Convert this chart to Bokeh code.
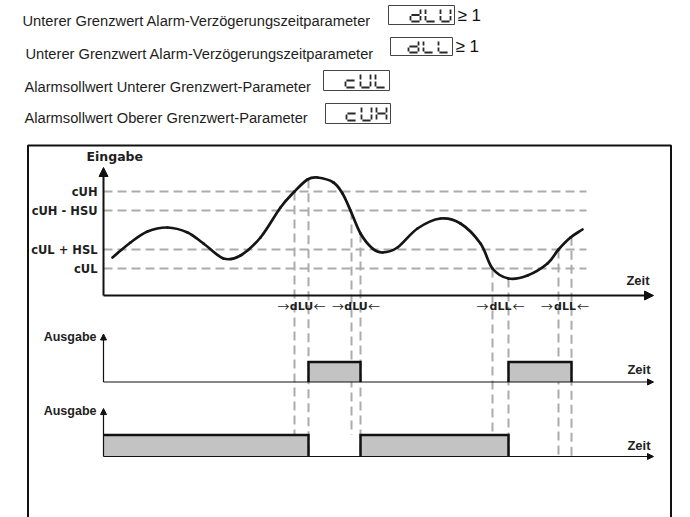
import numpy as np
from bokeh.plotting import figure
from bokeh.models import Range1d, Arrow, NormalHead
from bokeh.core.properties import value
from bokeh.embed import file_html
from bokeh.resources import INLINE

# ---------------- data ----------------
header_labels = [
    "Unterer Grenzwert Alarm-Verzögerungszeitparameter",
    "Unterer Grenzwert Alarm-Verzögerungszeitparameter",
    "Alarmsollwert Unterer Grenzwert-Parameter",
    "Alarmsollwert Oberer Grenzwert-Parameter",
]
header_codes = ["dLU", "dLL", "cUL", "cUH"]
header_suffix = ["≥ 1", "≥ 1"]

level_names = ["cUH", "cUH - HSU", "cUL + HSL", "cUL"]
level_values = [104, 85, 46, 27]

curve_t = [9, 27, 44, 64, 84, 100, 120, 137, 157, 177, 191, 204, 214, 230, 239,
           247, 257, 269, 279, 294, 314, 337, 357, 377, 389, 405, 424, 444, 455, 467, 479]
curve_v = [38, 53, 64, 68, 63, 52, 37, 40, 58, 88, 104, 116, 118, 113, 102,
           85, 62, 47, 43, 48, 67, 77, 72, 52, 27, 17, 20, 32, 46, 58, 66]

cross_t = [191, 248, 389, 455]
cross_level = ["cUH", "cUH - HSU", "cUL", "cUL + HSL"]
cross_bottom_out2 = [1, 1, 1, 0]
delay_end_t = [205, 257, 405, 468]
delay_names = ["dLU", "dLU", "dLL", "dLL"]

out1_on = [205, 405]
out1_off = [257, 468]
out2_on = [0, 257]
out2_off = [205, 405]
time_end = 550

# ---------------- layout ----------------
W, H = 680, 517
T0 = 103          # screen x of time origin
INP0 = 295        # screen y of input axis
OUT1_0, OUT1_H = 381.5, 20.0
OUT2_0, OUT2_H = 456.0, 21.5


def out2_to_inp(v):
    return INP0 - (OUT2_0 - v * OUT2_H)


p = figure(width=W, height=H, x_range=Range1d(0, W), y_range=Range1d(H, 0),
           output_backend="svg", toolbar_location=None, min_border=0,
           x_axis_location=None, y_axis_location=None, outline_line_color=None)
p.grid.grid_line_color = None
p.background_fill_color = "white"
p.border_fill_color = "white"

p.extra_x_ranges = {"time": Range1d(-T0, W - T0)}
p.extra_y_ranges = {
    "inp": Range1d(INP0 - H, INP0),
    "out1": Range1d((OUT1_0 - H) / OUT1_H, OUT1_0 / OUT1_H),
    "out2": Range1d((OUT2_0 - H) / OUT2_H, OUT2_0 / OUT2_H),
}

ARIAL = value("Liberation Sans")
VERD = value("DejaVu Sans")
CJK = value("Noto Sans CJK SC")
TXT = "#1e1e1e"

# ---------------- header ----------------
p.text(x=[22, 25, 24, 24], y=[20.7, 53.3, 86, 117], text=header_labels,
       text_font=ARIAL, text_font_size="14.7px", text_baseline="alphabetic",
       text_color=TXT)

box_left = [388, 390, 323, 325]
box_right = [454, 452, 389, 390]
box_top = [5, 37, 70, 103]
box_bottom = [24, 55, 90, 123]
p.quad(left=box_left, right=box_right, top=box_top, bottom=box_bottom,
       fill_color=None, line_color="#444444", line_width=1)

SEG = {"a": ((0, 0), (1, 0)), "b": ((1, 0), (1, 0.5)), "c": ((1, 0.5), (1, 1)),
       "d": ((0, 1), (1, 1)), "e": ((0, 0.5), (0, 1)), "f": ((0, 0), (0, 0.5)),
       "g": ((0, 0.5), (1, 0.5))}
CHARS = {"d": "bcdeg", "L": "def", "U": "bcdef", "c": "deg", "H": "bcefg"}
seg_xs, seg_ys = [], []
gw, pitch, gap = 10.0, 15.0, 0.9
for code, r, t, b in zip(header_codes, box_right, box_top, box_bottom):
    gh = (b - t) - 6
    n = len(code)
    for k, ch in enumerate(code):
        left = r - 4 - gw - (n - 1 - k) * pitch
        top = t + 3
        for s in CHARS[ch]:
            (x0, y0), (x1, y1) = SEG[s]
            X0, Y0 = left + x0 * gw, top + y0 * gh
            X1, Y1 = left + x1 * gw, top + y1 * gh
            L = np.hypot(X1 - X0, Y1 - Y0)
            ux, uy = (X1 - X0) / L, (Y1 - Y0) / L
            seg_xs.append([X0 + ux * gap, X1 - ux * gap])
            seg_ys.append([Y0 + uy * gap, Y1 - uy * gap])
p.multi_line(xs=seg_xs, ys=seg_ys, line_color="#2a2a2a", line_width=1.8, line_cap="butt")

p.text(x=[457, 455], y=[15, 46], text=header_suffix, text_font=ARIAL,
       text_font_size="17px", text_baseline="middle", text_color="#111111")

# ---------------- frame ----------------
p.quad(left=27.5, right=670.5, top=145, bottom=560, fill_color=None,
       line_color="#111111", line_width=2)

# ---------------- diagram ----------------
DASH = "9 5"
GREY = "#ababab"
tr = dict(x_range_name="time", y_range_name="inp")

p.segment(x0=[0] * 4, x1=[483] * 4, y0=level_values, y1=level_values,
          line_color=GREY, line_width=2, line_dash=DASH, **tr)

lvl = dict(zip(level_names, level_values))
v_x = cross_t + delay_end_t
v_top = [lvl[n] for n in cross_level] + list(np.interp(delay_end_t, curve_t, curve_v))
v_bot = [out2_to_inp(v) for v in cross_bottom_out2] + [out2_to_inp(0)] * len(delay_end_t)
p.segment(x0=v_x, x1=v_x, y0=v_top, y1=v_bot, line_color=GREY, line_width=2,
          line_dash=DASH, **tr)

# smooth rendering of the curve through the read points (cubic Bezier, Catmull-Rom tangents)
ct = np.array(curve_t, float)
cv = np.array(curve_v, float)
dt = np.empty_like(ct)
dv = np.empty_like(cv)
dt[1:-1] = (ct[2:] - ct[:-2]) / 2
dv[1:-1] = (cv[2:] - cv[:-2]) / 2
dt[0], dv[0] = ct[1] - ct[0], cv[1] - cv[0]
dt[-1], dv[-1] = ct[-1] - ct[-2], cv[-1] - cv[-2]
p.bezier(x0=ct[:-1], y0=cv[:-1], x1=ct[1:], y1=cv[1:],
         cx0=ct[:-1] + dt[:-1] / 3, cy0=cv[:-1] + dv[:-1] / 3,
         cx1=ct[1:] - dt[1:] / 3, cy1=cv[1:] - dv[1:] / 3,
         line_color="#151515", line_width=2.7, line_cap="round", **tr)

p.text(x=[-6] * 4, y=level_values, text=level_names, text_align="right",
       text_baseline="middle", text_font=VERD, text_font_style="bold",
       text_font_size="11.5px", text_color=TXT, **tr)
p.text(x=[-17], y=[139], text=["Eingabe"], text_align="left", text_baseline="middle",
       text_font=VERD, text_font_style="bold", text_font_size="12.5px", text_color=TXT, **tr)
p.text(x=[546], y=[15], text=["Zeit"], text_align="right", text_baseline="middle",
       text_font=ARIAL, text_font_style="bold", text_font_size="13px",
       text_color=TXT, **tr)

# delay labels: "→dLU←"
mid = [(a + b) / 2 for a, b in zip(cross_t, delay_end_t)]
p.text(x=mid, y=[-11] * 4, text=delay_names,
       text_align="center", text_baseline="middle", text_font=VERD,
       text_font_style="bold", text_font_size="11px", text_color=TXT, **tr)
p.text(x=[m - 12 for m in mid], y=[-11] * 4, text=["→"] * 4,
       text_align="right", text_baseline="middle", text_font=CJK,
       text_font_size="12px", text_color=TXT, **tr)
p.text(x=[m + 12 for m in mid], y=[-11] * 4, text=["←"] * 4,
       text_align="left", text_baseline="middle", text_font=CJK,
       text_font_size="12px", text_color=TXT, **tr)

p.add_layout(Arrow(end=NormalHead(size=9, fill_color="#111111", line_color="#111111"),
                   x_start=0, y_start=0, x_end=0, y_end=128, line_width=2,
                   line_color="#111111", **tr))
p.add_layout(Arrow(end=NormalHead(size=9, fill_color="#111111", line_color="#111111"),
                   x_start=0, y_start=0, x_end=time_end, y_end=0, line_width=2,
                   line_color="#111111", **tr))

FILL = "#c3c3c3"
for name, on, off, tip in (("out1", out1_on, out1_off, 2.4), ("out2", out2_on, out2_off, 2.23)):
    o = dict(x_range_name="time", y_range_name=name)
    p.quad(left=on, right=off, bottom=0, top=1, fill_color=FILL, line_color=None, **o)
    xs, ys = [], []
    for a, b in zip(on, off):
        if a == 0:
            xs.append([a, b, b])
            ys.append([1, 1, 0])
        else:
            xs.append([a, a, b, b])
            ys.append([0, 1, 1, 0])
    p.multi_line(xs=xs, ys=ys, line_color="#111111", line_width=2.5, line_join="miter", **o)
    p.add_layout(Arrow(end=NormalHead(size=6, fill_color="#111111", line_color="#111111"),
                       x_start=0, y_start=0, x_end=0, y_end=tip, line_width=1.2,
                       line_color="#111111", **o))
    p.add_layout(Arrow(end=NormalHead(size=6, fill_color="#111111", line_color="#111111"),
                       x_start=0, y_start=0, x_end=time_end, y_end=0, line_width=1.2,
                       line_color="#111111", **o))

p.text(x=[-7], y=[2.275], text=["Ausgabe"], text_align="right", text_baseline="middle",
       text_font=ARIAL, text_font_style="bold", text_font_size="12.5px", text_color=TXT,
       x_range_name="time", y_range_name="out1")
p.text(x=[-7], y=[2.1], text=["Ausgabe"], text_align="right", text_baseline="middle",
       text_font=ARIAL, text_font_style="bold", text_font_size="12.5px", text_color=TXT,
       x_range_name="time", y_range_name="out2")
p.text(x=[547], y=[0.625], text=["Zeit"], text_align="right", text_baseline="middle",
       text_font=ARIAL, text_font_style="bold", text_font_size="13px", text_color=TXT,
       x_range_name="time", y_range_name="out1")
p.text(x=[547], y=[0.51], text=["Zeit"], text_align="right", text_baseline="middle",
       text_font=ARIAL, text_font_style="bold", text_font_size="13px", text_color=TXT,
       x_range_name="time", y_range_name="out2")

open("out.html", "w").write(file_html(p, INLINE))
